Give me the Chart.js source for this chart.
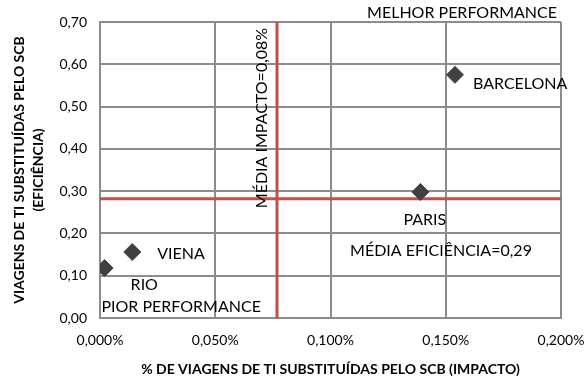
<!DOCTYPE html>
<html>
<head>
<meta charset="utf-8">
<script src="https://cdn.jsdelivr.net/npm/chart.js@4/dist/chart.umd.min.js"></script>
<style>
  html, body { margin: 0; padding: 0; background: #fff; }
  #wrap { width: 585px; height: 378px; }
</style>
</head>
<body>
<div id="wrap"><canvas id="chart" width="585" height="378"></canvas></div>
<script>
// cities, impact (% of trips replaced) and efficiency
const cities = ['RIO', 'VIENA', 'PARIS', 'BARCELONA'];
const impact = [0.002, 0.014, 0.139, 0.154];
const efficiency = [0.118, 0.156, 0.298, 0.575];

const meanImpact = 0.0768;
const meanEfficiency = 0.282;

const xTicks = [0, 0.05, 0.1, 0.15, 0.2];
const yTicks = [0, 0.1, 0.2, 0.3, 0.4, 0.5, 0.6, 0.7];

const FONT = 'Lato, "Open Sans", sans-serif';
const GRID = '#8c8c8c';
const RED = '#c0504d';

// text boxes placed in value space
const notes = [
  { text: 'MELHOR PERFORMANCE', x: 0.2, y: 0.7, align: 'right', dx: -4, dy: -9 },
  { text: 'PIOR PERFORMANCE', x: 0.0006, y: 0.0, align: 'left', dy: -11 },
  { text: 'MÉDIA EFICIÊNCIA=0,29', x: 0.1085, y: 0.158, align: 'left', dy: 0 },
  { text: 'MÉDIA IMPACTO=0,08%', x: meanImpact, y: 0.473, align: 'center', dx: -15, rotate: true }
];
// label offsets relative to each city marker
const labelOffsets = [[26, 17], [25, 2], [-17, 28], [18, 9]];

const labelPlugin = {
  id: 'labels',
  afterDatasetsDraw(chart) {
    const { ctx, scales } = chart;
    ctx.save();
    ctx.fillStyle = '#000';
    ctx.font = '16px ' + FONT;
    ctx.textBaseline = 'middle';
    cities.forEach((c, i) => {
      const px = scales.x.getPixelForValue(impact[i]);
      const py = scales.y.getPixelForValue(efficiency[i]);
      ctx.textAlign = 'left';
      ctx.fillText(c, px + labelOffsets[i][0], py + labelOffsets[i][1]);
    });
    notes.forEach(n => {
      const px = scales.x.getPixelForValue(n.x) + (n.dx || 0);
      const py = scales.y.getPixelForValue(n.y) + (n.dy || 0);
      ctx.save();
      ctx.translate(px, py);
      if (n.rotate) ctx.rotate(-Math.PI / 2);
      ctx.textAlign = n.align;
      ctx.fillText(n.text, 0, 0);
      ctx.restore();
    });
    ctx.restore();
  }
};

new Chart(document.getElementById('chart'), {
  type: 'scatter',
  data: {
    datasets: [
      {
        data: cities.map((c, i) => ({ x: impact[i], y: efficiency[i] })),
        pointStyle: 'rectRot',
        pointRadius: 8.5,
        pointHoverRadius: 8.5,
        backgroundColor: '#404040',
        borderColor: '#404040',
        borderWidth: 1,
        order: 0
      },
      {
        type: 'line',
        data: [{ x: meanImpact, y: 0 }, { x: meanImpact, y: 0.7 }],
        borderColor: RED,
        borderWidth: 3,
        pointRadius: 0,
        order: 1
      },
      {
        type: 'line',
        data: [{ x: 0, y: meanEfficiency }, { x: 0.2, y: meanEfficiency }],
        borderColor: RED,
        borderWidth: 3,
        pointRadius: 0,
        order: 1
      }
    ]
  },
  options: {
    responsive: false,
    animation: false,
    layout: { padding: { left: 0, right: 24, top: 22, bottom: 0 } },
    plugins: { legend: { display: false }, tooltip: { enabled: false } },
    scales: {
      x: {
        type: 'linear',
        min: 0,
        max: 0.2,
        afterBuildTicks: s => { s.ticks = xTicks.map(v => ({ value: v })); },
        afterFit: s => { s.height = 60; s.paddingLeft = 0; s.paddingRight = 0; },
        grid: { color: GRID, lineWidth: 2, drawTicks: false },
        border: { color: GRID, width: 2 },
        ticks: {
          padding: 14,
          color: '#000',
          font: { family: FONT, size: 14 },
          callback: v => v.toFixed(3).replace('.', ',') + '%'
        },
        title: {
          display: true,
          text: '% DE VIAGENS DE TI SUBSTITUÍDAS PELO SCB (IMPACTO)',
          color: '#000',
          font: { family: FONT, size: 14, weight: 'bold' },
          padding: { top: 6, bottom: 0 }
        }
      },
      y: {
        min: 0,
        max: 0.7,
        afterBuildTicks: s => { s.ticks = yTicks.map(v => ({ value: v })); },
        afterFit: s => { s.width = 100; s.paddingTop = 0; s.paddingBottom = 0; },
        grid: { color: GRID, lineWidth: 2, drawTicks: false },
        border: { color: GRID, width: 2 },
        ticks: {
          padding: 13,
          color: '#000',
          font: { family: FONT, size: 14 },
          callback: v => v.toFixed(2).replace('.', ',')
        },
        title: {
          display: true,
          text: ['VIAGENS DE TI SUBSTITUÍDAS PELO SCB', '(EFICIÊNCIA)'],
          color: '#000',
          font: { family: FONT, size: 14, weight: 'bold', lineHeight: 1.35 },
          padding: { top: 10, bottom: 0 }
        }
      }
    }
  },
  plugins: [labelPlugin]
});
</script>
</body>
</html>
